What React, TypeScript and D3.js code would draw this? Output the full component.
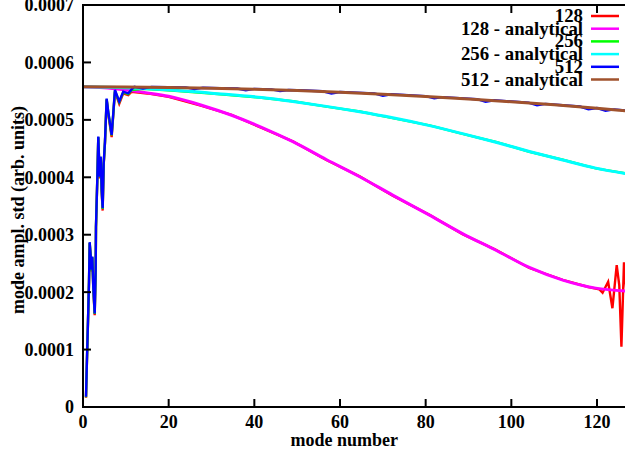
import React from "react";
import * as d3 from "d3";

// Values are in units of 1e-4 (arb. units); x is the mode number.
type Pt = [number, number];

const X_TICKS = [0, 20, 40, 60, 80, 100, 120];
const Y_TICKS = [0, 1, 2, 3, 4, 5, 6, 7];
const Y_LABELS = ["0", "0.0001", "0.0002", "0.0003", "0.0004", "0.0005", "0.0006", "0.0007"];

const SERIES_NAMES = [
  "128",
  "128 - analytical",
  "256",
  "256 - analytical",
  "512",
  "512 - analytical",
];
const SERIES_COLORS = ["#ff0000", "#ff00ff", "#00ff00", "#00ffff", "#0000ff", "#a0522d"];

// Low-mode start, shared shape of the measured spectra
const meas512Low: Pt[] = [
  [0.7, 0.18], [0.93, 0.85], [1.17, 1.51], [1.4, 2.18], [1.56, 2.87], [2.03, 2.39],
  [2.17, 2.62], [2.4, 2.1], [2.73, 1.63], [2.96, 2.39], [3.03, 3.14], [3.33, 3.95],
  [3.57, 4.71], [3.89, 4.01], [4.13, 4.36], [4.36, 3.78], [4.59, 3.46], [4.83, 4.24],
  [5.13, 4.62], [5.52, 5.37], [5.9, 5.14], [6.69, 4.74], [7.06, 5.11], [7.46, 5.52],
  [8.46, 5.32], [9.39, 5.49], [10.56, 5.46], [11.35, 5.53],
];

const meas128: Pt[] = [
  [0.7, 0.16], [0.93, 0.83], [1.17, 1.49], [1.4, 2.16], [1.56, 2.85], [2.03, 2.36],
  [2.17, 2.6], [2.4, 2.07], [2.73, 1.6], [2.96, 2.37], [3.03, 3.12], [3.33, 3.93],
  [3.57, 4.69], [3.89, 3.98], [4.13, 4.34], [4.36, 3.75], [4.59, 3.42], [4.83, 4.22],
  [5.13, 4.6], [5.52, 5.35], [5.9, 5.1], [6.69, 4.7], [7.06, 5.08], [7.46, 5.49],
  [8.46, 5.28], [9.39, 5.46], [10.56, 5.43], [11.35, 5.49], [15, 5.46], [20, 5.40],
  [27.7, 5.245], [34.7, 5.085], [41.7, 4.86], [49, 4.625], [56.8, 4.30], [64.6, 4.015],
  [72.3, 3.68], [80.9, 3.345], [88.6, 3.01], [96.4, 2.735], [104.2, 2.42], [112, 2.215],
  [118, 2.09], [120.5, 2.05], [121.3, 1.99], [122.6, 2.18], [123.6, 1.72], [124.6, 2.47],
  [125.2, 2.12], [125.7, 1.05], [126.3, 2.52], [127, 1.9],
];

const ana128: Pt[] = [
  [0, 5.575], [5, 5.56], [10, 5.52], [15, 5.47], [20, 5.41], [27.7, 5.255], [34.7, 5.08],
  [41.7, 4.87], [49, 4.62], [56.8, 4.31], [64.6, 4.01], [72.3, 3.69], [80.9, 3.34],
  [88.6, 3.02], [96.4, 2.73], [104.2, 2.43], [112, 2.21], [119.7, 2.07], [127, 2.02],
];

const meas256: Pt[] = [
  ...meas512Low.map(([k, v]): Pt => [k, v - 0.01]),
  [14, 5.54], [20.7, 5.51], [30, 5.46], [41.7, 5.385], [49, 5.325], [56.8, 5.23],
  [64.6, 5.145], [72.3, 5.03], [80.9, 4.905], [88.6, 4.755], [96.4, 4.615], [104.2, 4.445],
  [112, 4.305], [119.7, 4.155], [127, 4.065],
];

const ana256: Pt[] = [
  [0, 5.575], [10, 5.56], [20.7, 5.52], [30, 5.465], [41.7, 5.39], [49, 5.32], [56.8, 5.235],
  [64.6, 5.14], [72.3, 5.035], [80.9, 4.9], [88.6, 4.76], [96.4, 4.61], [104.2, 4.45],
  [112, 4.3], [119.7, 4.16], [127, 4.06],
];

const meas512: Pt[] = [
  ...meas512Low,
  [12, 5.575], [14, 5.545], [16, 5.575], [20, 5.57], [24, 5.565], [26, 5.535], [28, 5.56],
  [32, 5.553], [36, 5.545], [38, 5.515], [40, 5.54], [44, 5.53], [46, 5.5], [48, 5.52],
  [52, 5.51], [56, 5.498], [58, 5.46], [60, 5.486], [64, 5.474], [68, 5.46], [70, 5.42],
  [72, 5.445], [76, 5.43], [80, 5.413], [82, 5.375], [84, 5.396], [88, 5.378], [92, 5.36],
  [94, 5.315], [96, 5.34], [100, 5.32], [104, 5.3], [106, 5.255], [108, 5.278], [112, 5.255],
  [116, 5.232], [118, 5.185], [120, 5.206], [122, 5.16], [124, 5.182], [127, 5.162],
];

const ana512: Pt[] = [
  [0, 5.575], [10, 5.572], [20, 5.565], [30, 5.551], [40, 5.533], [50, 5.51], [60, 5.481],
  [70, 5.447], [80, 5.408], [90, 5.364], [100, 5.315], [110, 5.261], [120, 5.201], [127, 5.157],
];

const SERIES: { data: Pt[]; smooth: boolean }[] = [
  { data: meas128, smooth: false },
  { data: ana128, smooth: true },
  { data: meas256, smooth: false },
  { data: ana256, smooth: true },
  { data: meas512, smooth: false },
  { data: ana512, smooth: true },
];

const W = 625;
const H = 457;
const M = { left: 83, top: 5, bottom: 407 };
const FONT = "'Liberation Serif', 'Times New Roman', serif";

export default function App() {
  const x = d3.scaleLinear().domain([0, 120]).range([M.left, 597]);
  const y = d3.scaleLinear().domain([0, 7]).range([M.bottom, M.top]);
  const xEnd = x(127);

  const lineStep = d3
    .line<Pt>()
    .x((d) => x(d[0]))
    .y((d) => y(d[1]))
    .curve(d3.curveLinear);
  const lineSmooth = d3
    .line<Pt>()
    .x((d) => x(d[0]))
    .y((d) => y(d[1]))
    .curve(d3.curveMonotoneX);

  const legendTop = 16;
  const legendStep = 12.7;

  return (
    <svg
      width={W}
      height={H}
      style={{ position: "absolute", left: 0, top: 0, background: "#fff" }}
      fontFamily={FONT}
      fontWeight="bold"
    >
      <defs>
        <clipPath id="plotArea">
          <rect x={M.left} y={M.top} width={xEnd - M.left} height={M.bottom - M.top} />
        </clipPath>
      </defs>

      {/* data lines */}
      <g clipPath="url(#plotArea)">
        {SERIES.map((s, i) => (
          <path
            key={SERIES_NAMES[i]}
            d={(s.smooth ? lineSmooth : lineStep)(s.data) ?? ""}
            fill="none"
            stroke={SERIES_COLORS[i]}
            strokeWidth={s.smooth ? 3 : 2.4}
            strokeLinejoin="miter"
          />
        ))}
      </g>

      {/* frame */}
      <path
        d={`M${xEnd},${M.top}H${M.left}V${M.bottom}H${xEnd}`}
        fill="none"
        stroke="#000"
        strokeWidth={2}
      />

      {/* y ticks */}
      {Y_TICKS.map((t, i) => (
        <g key={"y" + t}>
          <line x1={M.left} x2={M.left + 8} y1={y(t)} y2={y(t)} stroke="#000" strokeWidth={2} />
          <text x={74} y={y(t)} dy="0.36em" textAnchor="end" fontSize={18}>
            {Y_LABELS[i]}
          </text>
        </g>
      ))}

      {/* x ticks, bottom and top */}
      {X_TICKS.map((t) => (
        <g key={"x" + t}>
          <line x1={x(t)} x2={x(t)} y1={M.bottom} y2={M.bottom - 8} stroke="#000" strokeWidth={2} />
          <line x1={x(t)} x2={x(t)} y1={M.top} y2={M.top + 8} stroke="#000" strokeWidth={2} />
          <text x={x(t)} y={428} textAnchor="middle" fontSize={18}>
            {t}
          </text>
        </g>
      ))}

      {/* axis titles */}
      <text x={x(61)} y={446} textAnchor="middle" fontSize={18}>
        mode number
      </text>
      <text
        transform={`translate(24,${210}) rotate(-90)`}
        textAnchor="middle"
        fontSize={18}
      >
        mode ampl. std (arb. units)
      </text>

      {/* legend */}
      {SERIES_NAMES.map((name, i) => {
        const cy = legendTop + i * legendStep;
        return (
          <g key={"leg" + name}>
            <text x={583} y={cy + 6} textAnchor="end" fontSize={18.8}>
              {name}
            </text>
            <line x1={591} x2={619} y1={cy} y2={cy} stroke={SERIES_COLORS[i]} strokeWidth={2.5} />
          </g>
        );
      })}
    </svg>
  );
}
